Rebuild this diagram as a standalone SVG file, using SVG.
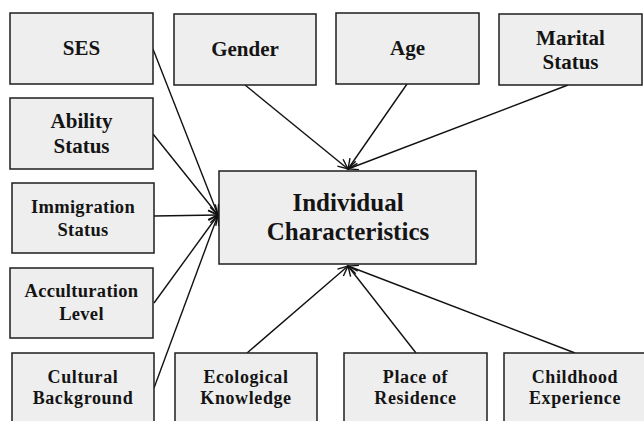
<svg xmlns="http://www.w3.org/2000/svg" width="644" height="421" viewBox="0 0 644 421">
<defs>
<style>
.box{fill:#eeeeee;stroke:#1e1e1e;stroke-width:1.5}
.t{font-weight:bold;fill:#141414;text-anchor:middle}
.l{font-size:21px}
.m{font-size:18.5px;letter-spacing:0.3px}
.s{font-size:18px;letter-spacing:0.6px}
.c{font-size:25px}
.ln{stroke:#111;stroke-width:1.4;fill:none;marker-end:url(#ah)}
</style>
<marker id="ah" markerUnits="userSpaceOnUse" markerWidth="14" markerHeight="12" viewBox="-2 -6 14 12" refX="10" refY="0" orient="auto">
<path d="M0,-4.5 L10,0 L0,4.5" fill="none" stroke="#111" stroke-width="1.4"/>
</marker>
</defs>
<rect width="644" height="421" fill="#ffffff"/>
<g id="connectors">
<line class="ln" x1="153" y1="49" x2="218" y2="215"/>
<line class="ln" x1="153" y1="134" x2="218" y2="215"/>
<line class="ln" x1="154" y1="216" x2="218" y2="215"/>
<line class="ln" x1="154" y1="303" x2="218" y2="215"/>
<line class="ln" x1="154" y1="388" x2="218" y2="215"/>
<line class="ln" x1="245" y1="85" x2="348" y2="169"/>
<line class="ln" x1="407" y1="84" x2="348" y2="169"/>
<line class="ln" x1="568" y1="85" x2="348" y2="169"/>
<line class="ln" x1="247" y1="353" x2="348" y2="266"/>
<line class="ln" x1="416" y1="353" x2="348" y2="266"/>
<line class="ln" x1="575" y1="353" x2="348" y2="266"/>
</g>
<g font-family="'Liberation Serif', 'Times New Roman', Times, serif">
<g id="center">
<rect class="box" x="219" y="171" width="257" height="93"/>
<text class="t c" x="348" y="211">Individual</text>
<text class="t c" x="348" y="240">Characteristics</text>
</g>
<g id="ses">
<rect class="box" x="10" y="13" width="143" height="71"/>
<text class="t l" x="81.5" y="55">SES</text>
</g>
<g id="gender">
<rect class="box" x="174" y="14" width="142" height="71"/>
<text class="t l" x="245" y="56">Gender</text>
</g>
<g id="age">
<rect class="box" x="336" y="13" width="143" height="71"/>
<text class="t l" x="407.5" y="55">Age</text>
</g>
<g id="marital">
<rect class="box" x="499" y="14" width="143" height="71"/>
<text class="t l" x="570.5" y="45">Marital</text>
<text class="t l" x="570.5" y="69">Status</text>
</g>
<g id="ability">
<rect class="box" x="10" y="98" width="143" height="71"/>
<text class="t l" x="81.5" y="128">Ability</text>
<text class="t l" x="81.5" y="153">Status</text>
</g>
<g id="immigration">
<rect class="box" x="12" y="183" width="142" height="70"/>
<text class="t m" x="83" y="213">Immigration</text>
<text class="t m" x="83" y="236">Status</text>
</g>
<g id="acculturation">
<rect class="box" x="10" y="268" width="143" height="70"/>
<text class="t m" x="81.5" y="297">Acculturation</text>
<text class="t m" x="81.5" y="320">Level</text>
</g>
<g id="cultural">
<rect class="box" x="12" y="353" width="142" height="80"/>
<text class="t s" x="83" y="383">Cultural</text>
<text class="t s" x="83" y="404">Background</text>
</g>
<g id="ecological">
<rect class="box" x="175" y="353" width="142" height="80"/>
<text class="t s" x="246" y="383">Ecological</text>
<text class="t s" x="246" y="404">Knowledge</text>
</g>
<g id="place">
<rect class="box" x="344" y="353" width="143" height="80"/>
<text class="t s" x="415.5" y="383">Place of</text>
<text class="t s" x="415.5" y="404">Residence</text>
</g>
<g id="childhood">
<rect class="box" x="504" y="353" width="144" height="80"/>
<text class="t s" x="575" y="383">Childhood</text>
<text class="t s" x="575" y="404">Experience</text>
</g>
</g>
</svg>
